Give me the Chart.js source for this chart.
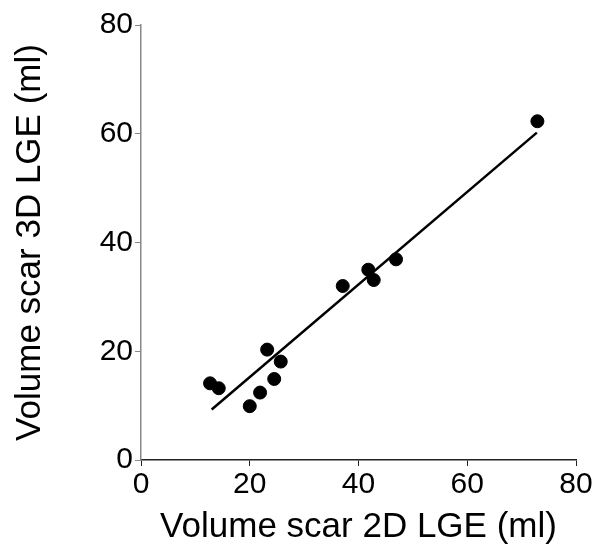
<!DOCTYPE html>
<html>
<head>
<meta charset="utf-8">
<script src="https://cdn.jsdelivr.net/npm/chart.js@4/dist/chart.umd.min.js"></script>
<style>
  html, body { margin: 0; padding: 0; background: #fff; }
  #wrap { width: 598px; height: 550px; }
</style>
</head>
<body>
<div id="wrap"><canvas id="scar-chart" width="598" height="550"></canvas></div>
<script>
// scar volume, 2D LGE (x) vs 3D LGE (y), in ml
const vol2D = [12.7, 14.3, 20.0, 21.9, 23.2, 24.5, 25.7, 37.1, 41.8, 42.8, 46.9, 72.9];
const vol3D = [14.1, 13.2, 9.9, 12.4, 20.3, 14.9, 18.1, 32.0, 35.0, 33.1, 36.9, 62.3];

// regression line end points
const fitX = [13.0, 72.8];
const fitY = [9.3, 60.2];

const axisTicks = [0, 20, 40, 60, 80];

const FONT = 'Liberation Sans, Arial, sans-serif';

const points = vol2D.map((x, i) => ({ x: x, y: vol3D[i] }));
const fitLine = fitX.map((x, i) => ({ x: x, y: fitY[i] }));

const ctx = document.getElementById('scar-chart').getContext('2d');
new Chart(ctx, {
  type: 'scatter',
  data: {
    datasets: [
      {
        label: 'fit',
        type: 'line',
        data: fitLine,
        borderColor: '#000',
        borderWidth: 2.5,
        pointRadius: 0,
        fill: false,
        order: 2,
      },
      {
        label: 'patients',
        data: points,
        backgroundColor: '#000',
        borderColor: '#000',
        pointRadius: 6.5,
        pointHoverRadius: 6.5,
        order: 1,
      },
    ],
  },
  options: {
    responsive: false,
    animation: false,
    events: [],
    layout: { padding: { top: 25, right: 22, left: 0, bottom: 0 } },
    plugins: { legend: { display: false }, tooltip: { enabled: false } },
    scales: {
      x: {
        type: 'linear',
        min: 0,
        max: 80,
        afterBuildTicks: (scale) => { scale.ticks = axisTicks.map((v) => ({ value: v })); },
        afterFit: (scale) => { scale.height = 90; },
        grid: { drawOnChartArea: false, drawTicks: true, tickLength: 6, color: '#222', lineWidth: 1 },
        border: { display: true, color: '#222', width: 1.5 },
        ticks: { color: '#000', font: { family: FONT, size: 30 }, padding: 1, maxRotation: 0 },
        title: {
          display: true,
          text: 'Volume scar 2D LGE (ml)',
          color: '#000',
          font: { family: FONT, size: 35 },
          padding: { top: 0, bottom: 2 },
        },
      },
      y: {
        type: 'linear',
        min: 0,
        max: 80,
        afterBuildTicks: (scale) => { scale.ticks = axisTicks.map((v) => ({ value: v })); },
        afterFit: (scale) => { scale.width = 141; },
        grid: { drawOnChartArea: false, drawTicks: true, tickLength: 6, color: '#888', lineWidth: 1 },
        border: { display: true, color: '#888', width: 1.5 },
        ticks: { color: '#000', font: { family: FONT, size: 30 }, padding: 2 },
        title: {
          display: true,
          text: 'Volume scar 3D LGE (ml)',
          color: '#000',
          font: { family: FONT, size: 35 },
          padding: { top: 9, bottom: 0 },
        },
      },
    },
  },
});
</script>
</body>
</html>
